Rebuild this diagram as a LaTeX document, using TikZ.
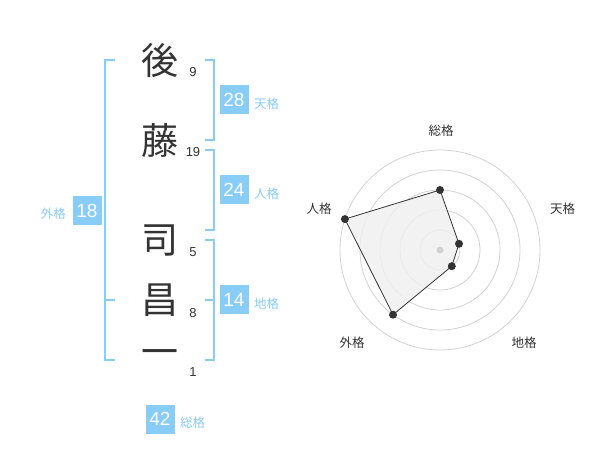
\documentclass[tikz,border=0pt]{standalone}
\usepackage{fontspec}
\setmainfont{Liberation Sans}
\newfontfamily\jp{Noto Sans CJK JP}
\definecolor{sky}{HTML}{88CCF8}
\definecolor{ink}{HTML}{333333}
\definecolor{ringc}{HTML}{D2D2D2}
\definecolor{fillg}{HTML}{F0F0F0}
\begin{document}
\begin{tikzpicture}[x=1pt,y=-1pt,
  kanji/.style={font=\jp\fontsize{37}{37}\selectfont, text=ink, inner sep=0},
  strokes/.style={font=\fontsize{13}{13}\selectfont, text=ink, inner sep=0},
  score/.style={fill=sky, text=white, minimum width=29pt, minimum height=29pt, inner sep=0, font=\fontsize{19}{19}\selectfont},
  kaku/.style={text=sky, font=\jp\fontsize{12.5}{12.5}\selectfont, inner sep=0},
  brk/.style={draw=sky, line width=2pt},
  axislabel/.style={text=ink, font=\jp\fontsize{12.5}{12.5}\selectfont, inner sep=0},
  ringline/.style={draw=ringc, line width=0.8pt},
  dot/.style={circle, fill=ink, inner sep=0, minimum size=8pt}]
\useasboundingbox (0,0) rectangle (600,470);

% name characters
\node[kanji] (k1) at (160,60) {後};
\node[kanji] (k2) at (160,140) {藤};
\node[kanji] (k3) at (160,240) {司};
\node[kanji] (k4) at (160,300) {昌};
\node[kanji] (k5) at (160,358) {一};
% stroke counts
\node[strokes] (s1) at (193,72.5) {9};
\node[strokes] (s2) at (193,152) {19};
\node[strokes] (s3) at (193,252) {5};
\node[strokes] (s4) at (193,313) {8};
\node[strokes] (s5) at (193,372) {1};

% brackets
\draw[brk] (115,60) -- (105,60) -- (105,360) -- (115,360);
\draw[brk] (105,300) -- (115,300);
\draw[brk] (205,60) -- (214,60) -- (214,140) -- (205,140);
\draw[brk] (205,150) -- (214,150) -- (214,230) -- (205,230);
\draw[brk] (205,240) -- (214,240) -- (214,360) -- (205,360);
\draw[brk] (205,300) -- (214,300);

% scores
\node[score] (ten) at (234,100) {28};
\node[kaku, anchor=west] (tenl) at (254,104) {天格};
\node[score] (jin) at (234,190) {24};
\node[kaku, anchor=west] (jinl) at (254,194) {人格};
\node[score] (chi) at (234,300) {14};
\node[kaku, anchor=west] (chil) at (254,304) {地格};
\node[score] (gai) at (87,210.5) {18};
\node[kaku, anchor=east] (gail) at (66,214) {外格};
\node[score] (sou) at (160,419) {42};
\node[kaku, anchor=west] (soul) at (180,423) {総格};

% radar chart
\foreach \r in {20,40,60,80,100} \draw[ringline] (440,250) circle[radius=\r];
\coordinate (pS) at (440,190);
\coordinate (pT) at (459.0,243.8);
\coordinate (pC) at (451.8,266.2);
\coordinate (pG) at (393.0,314.7);
\coordinate (pJ) at (344.9,219.1);
\fill[fillg, opacity=0.85] (pS) -- (pT) -- (pC) -- (pG) -- (pJ) -- cycle;
\draw[ink, line width=0.8pt] (pS) -- (pT) -- (pC) -- (pG) -- (pJ) -- cycle;
\fill[ringc] (440,250) circle[radius=3.5];
\foreach \p in {pS,pT,pC,pG,pJ} \node[dot] at (\p) {};

\node[axislabel] (aS) at (441,131) {総格};
\node[axislabel] (aT) at (562.5,209) {天格};
\node[axislabel] (aC) at (524,342.5) {地格};
\node[axislabel] (aG) at (352,342.5) {外格};
\node[axislabel] (aJ) at (319,209) {人格};
\end{tikzpicture}
\end{document}
